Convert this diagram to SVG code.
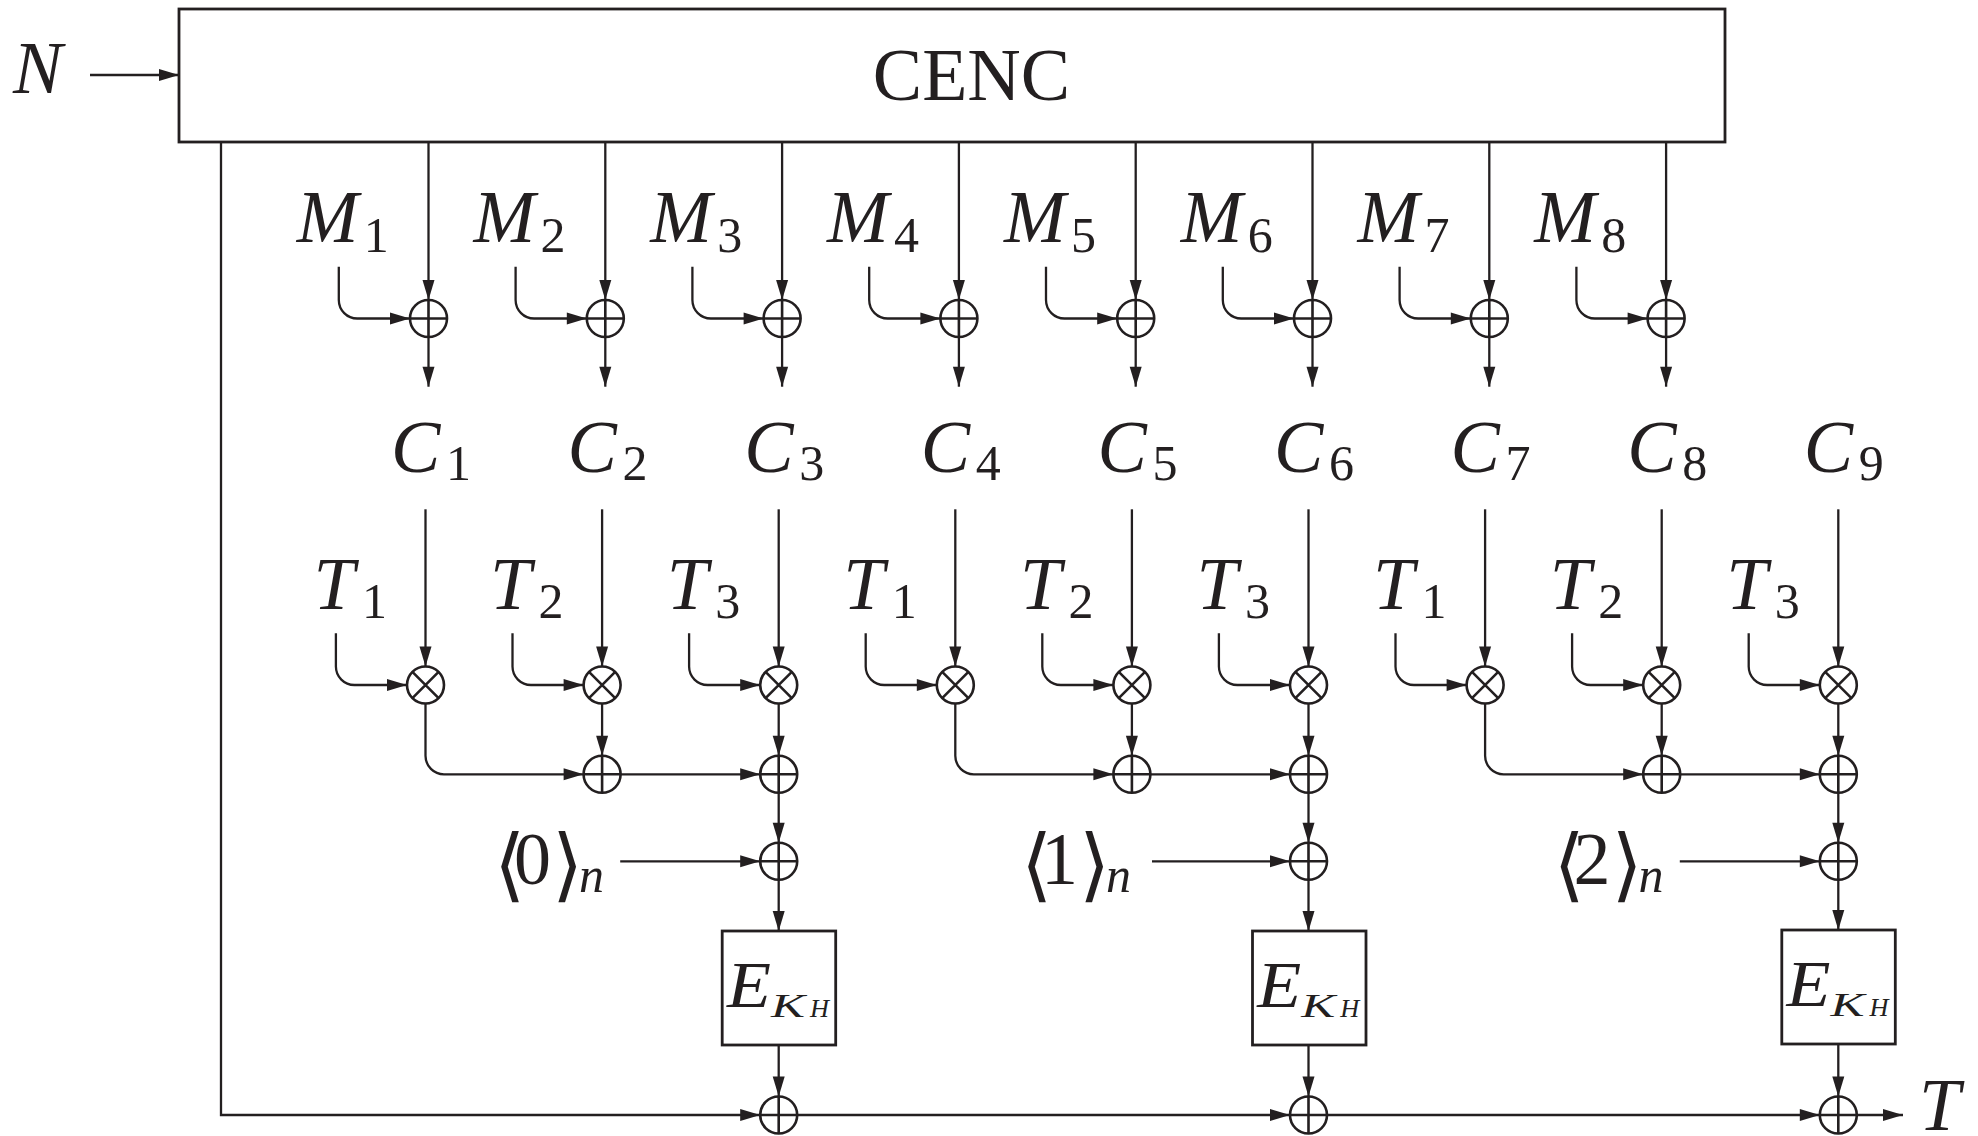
<svg xmlns="http://www.w3.org/2000/svg" xmlns:xlink="http://www.w3.org/1999/xlink" width="1978" height="1136" viewBox="0 0 1978 1136">
<style>
.ln{fill:none;stroke:#231f20;stroke-width:2.3}
.ar{marker-end:url(#ah)}
.bx{fill:none;stroke:#231f20;stroke-width:2.8}
.nd{fill:#fff;stroke:#231f20;stroke-width:2.6}
.nd path{fill:none}
.it{font-family:"Liberation Serif","DejaVu Serif",serif;font-style:italic;font-size:74px;fill:#231f20}
.rm{font-family:"Liberation Serif","DejaVu Serif",serif;font-style:normal;font-size:74px;fill:#231f20}
.sb{font-family:"Liberation Serif","DejaVu Serif",serif;font-style:normal;font-size:50px;fill:#231f20}
.sbi{font-family:"Liberation Serif","DejaVu Serif",serif;font-style:italic;font-size:50px;fill:#231f20}
.br{font-family:"DejaVu Serif","Liberation Serif",serif;font-style:normal;font-size:80px;fill:#231f20}
.e{font-family:"Liberation Serif","DejaVu Serif",serif;font-style:italic;font-size:66px;fill:#231f20}
.k{font-family:"Liberation Serif","DejaVu Serif",serif;font-style:italic;font-size:34px;fill:#231f20}
.h{font-family:"Liberation Serif","DejaVu Serif",serif;font-style:italic;font-size:25px;fill:#231f20}
</style>
<defs>
<marker id="ah" markerUnits="userSpaceOnUse" markerWidth="20" markerHeight="12" refX="20" refY="6" orient="auto" overflow="visible">
<path d="M0,0 L20,6 L0,12 z" fill="#231f20"/>
</marker>
<g id="xorSym" class="nd"><circle r="18.5"/><path d="M-18.5 0H18.5M0 -18.5V18.5"/></g>
<g id="mulSym" class="nd"><circle r="18.5"/><path d="M-13.1 -13.1L13.1 13.1M-13.1 13.1L13.1 -13.1"/></g>
</defs>

<g id="connectors">
<line class="ln ar" x1="90" y1="75" x2="179" y2="75"/>
<polyline class="ln ar" points="221,142 221,1115 760.2,1115"/>
<line class="ln ar" x1="428.5" y1="142" x2="428.5" y2="300"/>
<line class="ln ar" x1="605.3" y1="142" x2="605.3" y2="300"/>
<line class="ln ar" x1="782.1" y1="142" x2="782.1" y2="300"/>
<line class="ln ar" x1="958.9" y1="142" x2="958.9" y2="300"/>
<line class="ln ar" x1="1135.7" y1="142" x2="1135.7" y2="300"/>
<line class="ln ar" x1="1312.5" y1="142" x2="1312.5" y2="300"/>
<line class="ln ar" x1="1489.3" y1="142" x2="1489.3" y2="300"/>
<line class="ln ar" x1="1666.1" y1="142" x2="1666.1" y2="300"/>
<path class="ln ar" d="M338.8 266.7V300A18.5 18.5 0 0 0 357.3 318.5H410"/>
<path class="ln ar" d="M515.6 266.7V300A18.5 18.5 0 0 0 534.1 318.5H586.8"/>
<path class="ln ar" d="M692.4 266.7V300A18.5 18.5 0 0 0 710.9 318.5H763.6"/>
<path class="ln ar" d="M869.2 266.7V300A18.5 18.5 0 0 0 887.7 318.5H940.4"/>
<path class="ln ar" d="M1046 266.7V300A18.5 18.5 0 0 0 1064.5 318.5H1117.2"/>
<path class="ln ar" d="M1222.8 266.7V300A18.5 18.5 0 0 0 1241.3 318.5H1294"/>
<path class="ln ar" d="M1399.6 266.7V300A18.5 18.5 0 0 0 1418.1 318.5H1470.8"/>
<path class="ln ar" d="M1576.4 266.7V300A18.5 18.5 0 0 0 1594.9 318.5H1647.6"/>
<line class="ln ar" x1="428.5" y1="337" x2="428.5" y2="386.7"/>
<line class="ln ar" x1="605.3" y1="337" x2="605.3" y2="386.7"/>
<line class="ln ar" x1="782.1" y1="337" x2="782.1" y2="386.7"/>
<line class="ln ar" x1="958.9" y1="337" x2="958.9" y2="386.7"/>
<line class="ln ar" x1="1135.7" y1="337" x2="1135.7" y2="386.7"/>
<line class="ln ar" x1="1312.5" y1="337" x2="1312.5" y2="386.7"/>
<line class="ln ar" x1="1489.3" y1="337" x2="1489.3" y2="386.7"/>
<line class="ln ar" x1="1666.1" y1="337" x2="1666.1" y2="386.7"/>
<line class="ln ar" x1="425.5" y1="509.3" x2="425.5" y2="666.5"/>
<line class="ln ar" x1="602.1" y1="509.3" x2="602.1" y2="666.5"/>
<line class="ln ar" x1="778.7" y1="509.3" x2="778.7" y2="666.5"/>
<line class="ln ar" x1="955.3" y1="509.3" x2="955.3" y2="666.5"/>
<line class="ln ar" x1="1131.9" y1="509.3" x2="1131.9" y2="666.5"/>
<line class="ln ar" x1="1308.5" y1="509.3" x2="1308.5" y2="666.5"/>
<line class="ln ar" x1="1485.1" y1="509.3" x2="1485.1" y2="666.5"/>
<line class="ln ar" x1="1661.7" y1="509.3" x2="1661.7" y2="666.5"/>
<line class="ln ar" x1="1838.3" y1="509.3" x2="1838.3" y2="666.5"/>
<path class="ln ar" d="M335.9 633.3V666.5A18.5 18.5 0 0 0 354.4 685H407"/>
<path class="ln ar" d="M512.5 633.3V666.5A18.5 18.5 0 0 0 531 685H583.6"/>
<path class="ln ar" d="M689.1 633.3V666.5A18.5 18.5 0 0 0 707.6 685H760.2"/>
<path class="ln ar" d="M865.7 633.3V666.5A18.5 18.5 0 0 0 884.2 685H936.8"/>
<path class="ln ar" d="M1042.3 633.3V666.5A18.5 18.5 0 0 0 1060.8 685H1113.4"/>
<path class="ln ar" d="M1218.9 633.3V666.5A18.5 18.5 0 0 0 1237.4 685H1290"/>
<path class="ln ar" d="M1395.5 633.3V666.5A18.5 18.5 0 0 0 1414 685H1466.6"/>
<path class="ln ar" d="M1572.1 633.3V666.5A18.5 18.5 0 0 0 1590.6 685H1643.2"/>
<path class="ln ar" d="M1748.7 633.3V666.5A18.5 18.5 0 0 0 1767.2 685H1819.8"/>
<path class="ln ar" d="M425.5 703.5V755.8A18.5 18.5 0 0 0 444 774.3H583.6"/>
<line class="ln ar" x1="602.1" y1="703.5" x2="602.1" y2="755.8"/>
<line class="ln ar" x1="620.6" y1="774.3" x2="760.2" y2="774.3"/>
<line class="ln ar" x1="778.7" y1="703.5" x2="778.7" y2="755.8"/>
<line class="ln ar" x1="778.7" y1="792.8" x2="778.7" y2="842.8"/>
<line class="ln ar" x1="620.2" y1="861.3" x2="760.2" y2="861.3"/>
<line class="ln ar" x1="778.7" y1="879.8" x2="778.7" y2="931"/>
<line class="ln ar" x1="778.7" y1="1045" x2="778.7" y2="1096.5"/>
<path class="ln ar" d="M955.3 703.5V755.8A18.5 18.5 0 0 0 973.8 774.3H1113.4"/>
<line class="ln ar" x1="1131.9" y1="703.5" x2="1131.9" y2="755.8"/>
<line class="ln ar" x1="1150.4" y1="774.3" x2="1290" y2="774.3"/>
<line class="ln ar" x1="1308.5" y1="703.5" x2="1308.5" y2="755.8"/>
<line class="ln ar" x1="1308.5" y1="792.8" x2="1308.5" y2="842.8"/>
<line class="ln ar" x1="1152" y1="861.3" x2="1290" y2="861.3"/>
<line class="ln ar" x1="1308.5" y1="879.8" x2="1308.5" y2="931"/>
<line class="ln ar" x1="1308.5" y1="1045" x2="1308.5" y2="1096.5"/>
<path class="ln ar" d="M1485.1 703.5V755.8A18.5 18.5 0 0 0 1503.6 774.3H1643.2"/>
<line class="ln ar" x1="1661.7" y1="703.5" x2="1661.7" y2="755.8"/>
<line class="ln ar" x1="1680.2" y1="774.3" x2="1819.8" y2="774.3"/>
<line class="ln ar" x1="1838.3" y1="703.5" x2="1838.3" y2="755.8"/>
<line class="ln ar" x1="1838.3" y1="792.8" x2="1838.3" y2="842.8"/>
<line class="ln ar" x1="1679.8" y1="861.3" x2="1819.8" y2="861.3"/>
<line class="ln ar" x1="1838.3" y1="879.8" x2="1838.3" y2="930"/>
<line class="ln ar" x1="1838.3" y1="1044" x2="1838.3" y2="1096.5"/>
<line class="ln ar" x1="797.2" y1="1115" x2="1290" y2="1115"/>
<line class="ln ar" x1="1327" y1="1115" x2="1819.8" y2="1115"/>
<line class="ln ar" x1="1856.8" y1="1115" x2="1903" y2="1115"/>
</g>

<g id="cenc"><rect class="bx" x="179" y="9" width="1546" height="133"/><text class="rm" x="971.5" y="100" text-anchor="middle">CENC</text></g>
<g id="label-N"><text class="it" x="13" y="93">N</text></g>
<g id="label-T"><text class="it" x="1919" y="1130" font-size="72">T</text></g>

<g id="m-labels">
<text class="it" x="296.7" y="241.7">M</text><text class="sb" x="363.7" y="251.7">1</text>
<text class="it" x="473.5" y="241.7">M</text><text class="sb" x="540.5" y="251.7">2</text>
<text class="it" x="650.3" y="241.7">M</text><text class="sb" x="717.3" y="251.7">3</text>
<text class="it" x="827.1" y="241.7">M</text><text class="sb" x="894.1" y="251.7">4</text>
<text class="it" x="1003.9" y="241.7">M</text><text class="sb" x="1070.9" y="251.7">5</text>
<text class="it" x="1180.7" y="241.7">M</text><text class="sb" x="1247.7" y="251.7">6</text>
<text class="it" x="1357.5" y="241.7">M</text><text class="sb" x="1424.5" y="251.7">7</text>
<text class="it" x="1534.3" y="241.7">M</text><text class="sb" x="1601.3" y="251.7">8</text>
</g>

<g id="xor-m">
<use xlink:href="#xorSym" href="#xorSym" x="428.5" y="318.5"/>
<use xlink:href="#xorSym" href="#xorSym" x="605.3" y="318.5"/>
<use xlink:href="#xorSym" href="#xorSym" x="782.1" y="318.5"/>
<use xlink:href="#xorSym" href="#xorSym" x="958.9" y="318.5"/>
<use xlink:href="#xorSym" href="#xorSym" x="1135.7" y="318.5"/>
<use xlink:href="#xorSym" href="#xorSym" x="1312.5" y="318.5"/>
<use xlink:href="#xorSym" href="#xorSym" x="1489.3" y="318.5"/>
<use xlink:href="#xorSym" href="#xorSym" x="1666.1" y="318.5"/>
</g>

<g id="c-labels">
<text class="it" x="391" y="471.7">C</text><text class="sb" x="446" y="480">1</text>
<text class="it" x="567.6" y="471.7">C</text><text class="sb" x="622.6" y="480">2</text>
<text class="it" x="744.2" y="471.7">C</text><text class="sb" x="799.2" y="480">3</text>
<text class="it" x="920.8" y="471.7">C</text><text class="sb" x="975.8" y="480">4</text>
<text class="it" x="1097.4" y="471.7">C</text><text class="sb" x="1152.4" y="480">5</text>
<text class="it" x="1274" y="471.7">C</text><text class="sb" x="1329" y="480">6</text>
<text class="it" x="1450.6" y="471.7">C</text><text class="sb" x="1505.6" y="480">7</text>
<text class="it" x="1627.2" y="471.7">C</text><text class="sb" x="1682.2" y="480">8</text>
<text class="it" x="1803.8" y="471.7">C</text><text class="sb" x="1858.8" y="480">9</text>
</g>

<g id="t-labels">
<text class="it" x="313.5" y="609.3">T</text><text class="sb" x="362" y="618.3">1</text>
<text class="it" x="490.1" y="609.3">T</text><text class="sb" x="538.6" y="618.3">2</text>
<text class="it" x="666.7" y="609.3">T</text><text class="sb" x="715.2" y="618.3">3</text>
<text class="it" x="843.3" y="609.3">T</text><text class="sb" x="891.8" y="618.3">1</text>
<text class="it" x="1019.9" y="609.3">T</text><text class="sb" x="1068.4" y="618.3">2</text>
<text class="it" x="1196.5" y="609.3">T</text><text class="sb" x="1245" y="618.3">3</text>
<text class="it" x="1373.1" y="609.3">T</text><text class="sb" x="1421.6" y="618.3">1</text>
<text class="it" x="1549.7" y="609.3">T</text><text class="sb" x="1598.2" y="618.3">2</text>
<text class="it" x="1726.3" y="609.3">T</text><text class="sb" x="1774.8" y="618.3">3</text>
</g>

<g id="mul-nodes">
<use xlink:href="#mulSym" href="#mulSym" x="425.5" y="685"/>
<use xlink:href="#mulSym" href="#mulSym" x="602.1" y="685"/>
<use xlink:href="#mulSym" href="#mulSym" x="778.7" y="685"/>
<use xlink:href="#mulSym" href="#mulSym" x="955.3" y="685"/>
<use xlink:href="#mulSym" href="#mulSym" x="1131.9" y="685"/>
<use xlink:href="#mulSym" href="#mulSym" x="1308.5" y="685"/>
<use xlink:href="#mulSym" href="#mulSym" x="1485.1" y="685"/>
<use xlink:href="#mulSym" href="#mulSym" x="1661.7" y="685"/>
<use xlink:href="#mulSym" href="#mulSym" x="1838.3" y="685"/>
</g>

<g id="sum-nodes">
<use xlink:href="#xorSym" href="#xorSym" x="602.1" y="774.3"/>
<use xlink:href="#xorSym" href="#xorSym" x="778.7" y="774.3"/>
<use xlink:href="#xorSym" href="#xorSym" x="1131.9" y="774.3"/>
<use xlink:href="#xorSym" href="#xorSym" x="1308.5" y="774.3"/>
<use xlink:href="#xorSym" href="#xorSym" x="1661.7" y="774.3"/>
<use xlink:href="#xorSym" href="#xorSym" x="1838.3" y="774.3"/>
</g>

<g id="const-nodes">
<use xlink:href="#xorSym" href="#xorSym" x="778.7" y="861.3"/>
<use xlink:href="#xorSym" href="#xorSym" x="1308.5" y="861.3"/>
<use xlink:href="#xorSym" href="#xorSym" x="1838.3" y="861.3"/>
</g>

<g id="const-labels">
<text class="br" x="494" y="892">⟨<tspan class="rm" x="532.4" y="884" text-anchor="middle">0</tspan><tspan x="552" y="892">⟩</tspan><tspan class="sbi" x="579" y="892">n</tspan></text>
<text class="br" x="1021" y="892">⟨<tspan class="rm" x="1059.4" y="884" text-anchor="middle">1</tspan><tspan x="1079" y="892">⟩</tspan><tspan class="sbi" x="1106" y="892">n</tspan></text>
<text class="br" x="1553.6" y="892">⟨<tspan class="rm" x="1592" y="884" text-anchor="middle">2</tspan><tspan x="1611.6" y="892">⟩</tspan><tspan class="sbi" x="1638.6" y="892">n</tspan></text>
</g>

<g id="enc1"><rect class="bx" x="722.2" y="931" width="113.5" height="114"/>
<text class="e" x="727" y="1007" textLength="44" lengthAdjust="spacingAndGlyphs">E</text>
<text class="k" x="771" y="1017" textLength="34" lengthAdjust="spacingAndGlyphs">K</text>
<text class="h" x="810" y="1016.7" textLength="19" lengthAdjust="spacingAndGlyphs">H</text></g>
<g id="enc2"><rect class="bx" x="1252.5" y="931" width="113.5" height="114"/>
<text class="e" x="1257.3" y="1007" textLength="44" lengthAdjust="spacingAndGlyphs">E</text>
<text class="k" x="1301.3" y="1017" textLength="34" lengthAdjust="spacingAndGlyphs">K</text>
<text class="h" x="1340.3" y="1016.7" textLength="19" lengthAdjust="spacingAndGlyphs">H</text></g>
<g id="enc3"><rect class="bx" x="1781.8" y="930" width="113.5" height="114"/>
<text class="e" x="1786.6" y="1006" textLength="44" lengthAdjust="spacingAndGlyphs">E</text>
<text class="k" x="1830.6" y="1016" textLength="34" lengthAdjust="spacingAndGlyphs">K</text>
<text class="h" x="1869.6" y="1015.7" textLength="19" lengthAdjust="spacingAndGlyphs">H</text></g>

<g id="out-nodes">
<use xlink:href="#xorSym" href="#xorSym" x="778.7" y="1115"/>
<use xlink:href="#xorSym" href="#xorSym" x="1308.5" y="1115"/>
<use xlink:href="#xorSym" href="#xorSym" x="1838.3" y="1115"/>
</g>
</svg>
